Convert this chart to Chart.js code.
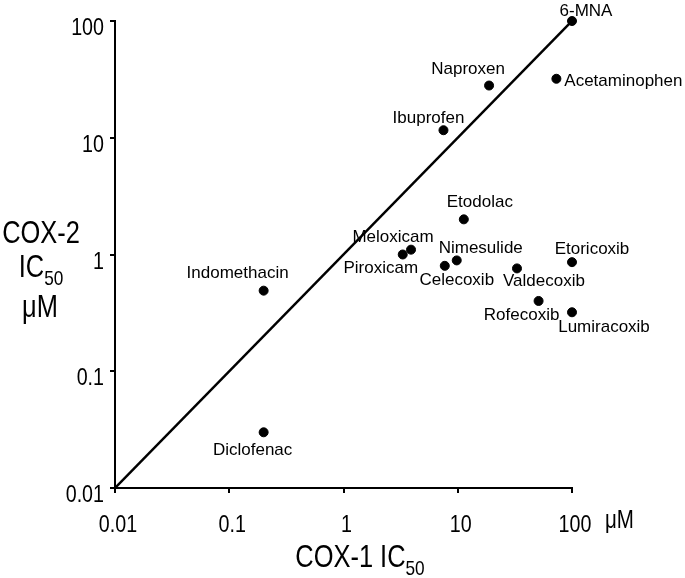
<!DOCTYPE html>
<html>
<head>
<meta charset="utf-8">
<script src="https://cdn.jsdelivr.net/npm/chart.js@4"></script>
<style>
  html, body { margin: 0; padding: 0; background: #fff; }
  #wrap { width: 685px; height: 578px; position: relative; }
</style>
</head>
<body>
<div id="wrap"><canvas id="cox-chart"></canvas></div>
<script>
// drug names and IC50 values (uM)
const drugs = ["6-MNA", "Naproxen", "Acetaminophen", "Ibuprofen", "Etodolac", "Meloxicam", "Piroxicam",
  "Nimesulide", "Celecoxib", "Valdecoxib", "Etoricoxib", "Rofecoxib", "Lumiracoxib", "Indomethacin", "Diclofenac"];
const cox1 = [100, 18.8, 73, 7.5, 11.3, 3.9, 3.3, 9.8, 7.7, 33, 100, 51, 100, 0.2, 0.2];
const cox2 = [100, 28, 32, 11.6, 2.0, 1.1, 1.0, 0.89, 0.80, 0.76, 0.86, 0.40, 0.32, 0.49, 0.030];

// line of equal potency
const unityLine = [0.01, 100];

const tickValues = [0.01, 0.1, 1, 10, 100];
const tickLabels = ["0.01", "0.1", "1", "10", "100"];

const SANS = "'Liberation Sans', Arial, Helvetica, sans-serif";
const SQUEEZE = 0.82; // fake a narrow helvetica

// where each name sits relative to its dot
const labelOffsets = {
  "6-MNA": [14, -10], "Naproxen": [-21, -16], "Acetaminophen": [67, 3], "Ibuprofen": [-15, -12],
  "Etodolac": [16, -17], "Meloxicam": [-18, -12], "Piroxicam": [-22, 14], "Nimesulide": [24, -12],
  "Celecoxib": [12, 14], "Valdecoxib": [27, 13], "Etoricoxib": [20, -13], "Rofecoxib": [-17, 14],
  "Lumiracoxib": [32, 15], "Indomethacin": [-26, -17], "Diclofenac": [-11, 18],
};

function narrowText(ctx, text, x, y, size, align) {
  ctx.save();
  ctx.font = size + "px " + SANS;
  ctx.textAlign = align || "left";
  ctx.textBaseline = "alphabetic";
  ctx.translate(x, y);
  ctx.scale(SQUEEZE, 1);
  ctx.fillText(text, 0, 0);
  ctx.restore();
}

function narrowWidth(ctx, text, size) {
  ctx.save();
  ctx.font = size + "px " + SANS;
  const w = ctx.measureText(text).width * SQUEEZE;
  ctx.restore();
  return w;
}

// text with a subscript, centered on cx
function subText(ctx, main, sub, cx, baseline, size, subSize, drop) {
  const w1 = narrowWidth(ctx, main, size);
  const w2 = narrowWidth(ctx, sub, subSize);
  const x0 = cx - (w1 + w2) / 2;
  narrowText(ctx, main, x0, baseline, size);
  narrowText(ctx, sub, x0 + w1, baseline + drop, subSize);
}

const pointLabels = {
  id: "pointLabels",
  afterDatasetsDraw(chart) {
    const ctx = chart.ctx;
    const meta = chart.getDatasetMeta(1);
    ctx.save();
    ctx.font = "17px " + SANS;
    ctx.fillStyle = "#000";
    ctx.textAlign = "center";
    ctx.textBaseline = "middle";
    meta.data.forEach((pt, i) => {
      const off = labelOffsets[drugs[i]] || [0, -14];
      ctx.fillText(drugs[i], pt.x + off[0], pt.y + off[1]);
    });
    ctx.restore();
  },
};

const axisText = {
  id: "axisText",
  afterDraw(chart) {
    const ctx = chart.ctx;
    const xs = chart.scales.x;
    const ys = chart.scales.y;
    ctx.save();
    ctx.fillStyle = "#000";

    // tick labels
    tickValues.forEach((v, i) => {
      narrowText(ctx, tickLabels[i], xs.getPixelForValue(v) + 3, 532, 24, "center");
      narrowText(ctx, tickLabels[i], 104, ys.getPixelForValue(v) + 14, 24, "right");
    });
    narrowText(ctx, "\u03BCM", 605, 528, 25);

    // y title, three lines
    narrowText(ctx, "COX-2", 41, 243, 31, "center");
    subText(ctx, "IC", "50", 41, 277, 31, 21, 8);
    narrowText(ctx, "\u03BCM", 40, 317, 31, "center");

    // x title
    subText(ctx, "COX-1 IC", "50", 360, 567, 31, 21, 8);
    ctx.restore();
  },
};

function logAxis(extra) {
  return Object.assign({
    type: "logarithmic",
    min: 0.01,
    max: 100,
    afterBuildTicks: (scale) => {
      scale.ticks = tickValues.map((v) => ({ value: v }));
    },
    ticks: { display: false },
    grid: {
      display: true,
      drawOnChartArea: false,
      drawTicks: true,
      tickLength: 5,
      color: "#000",
      lineWidth: 2,
    },
    border: { display: true, color: "#000", width: 2 },
  }, extra);
}

const cfg = {
  type: "scatter",
  data: {
    datasets: [
      {
        type: "line",
        data: unityLine.map((v) => ({ x: v, y: v })),
        borderColor: "#000",
        borderWidth: 2.5,
        pointRadius: 0,
        fill: false,
      },
      {
        data: drugs.map((d, i) => ({ x: cox1[i], y: cox2[i] })),
        backgroundColor: "#000",
        borderColor: "#000",
        pointRadius: 4.5,
        pointHoverRadius: 4.5,
        clip: false,
      },
    ],
  },
  options: {
    responsive: true,
    maintainAspectRatio: false,
    animation: false,
    layout: { padding: { left: 0, top: 21, right: 113, bottom: 0 } },
    plugins: {
      legend: { display: false },
      tooltip: { enabled: false },
    },
    scales: {
      x: logAxis({ position: "bottom", afterFit: (scale) => { scale.height = 90; } }),
      y: logAxis({ position: "left", afterFit: (scale) => { scale.width = 115; } }),
    },
  },
  plugins: [pointLabels, axisText],
};

new Chart(document.getElementById("cox-chart"), cfg);
</script>
</body>
</html>
